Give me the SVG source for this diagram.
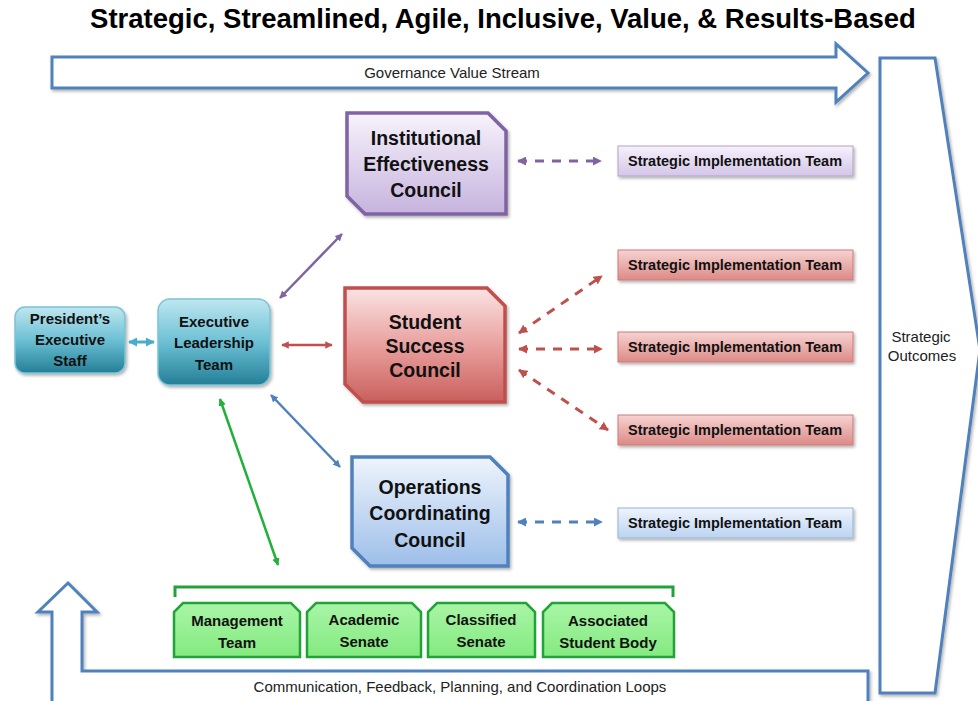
<svg xmlns="http://www.w3.org/2000/svg" width="978" height="701" viewBox="0 0 978 701">
<style>
.title{font-family:"Liberation Sans",Arial,sans-serif;font-weight:bold;font-size:27.5px;fill:#000}
.lbl{font-family:"Liberation Sans",Arial,sans-serif;font-size:15px;fill:#222}
.nb{font-family:"Liberation Sans",Arial,sans-serif;font-weight:bold;fill:#111;text-anchor:middle}
.big{font-size:19.5px}
.sm{font-size:15px}
.sit{font-size:14.5px}
.flow{fill:#fff;stroke:#4f81bd;stroke-width:3}
.sitp{fill:url(#gPurpleS);stroke:#b3a2c7;stroke-width:1}
.sitr{fill:url(#gRedS);stroke:#d07a77;stroke-width:1}
.sitb{fill:url(#gBlueS);stroke:#95b3d7;stroke-width:1}
.grn{fill:url(#gGreen);stroke:#22a33a;stroke-width:2.5}
.teal{fill:url(#gTeal);stroke:#7cc4d6;stroke-width:1.5}
</style>
<defs>
<linearGradient id="gTeal" x1="0" y1="0" x2="0" y2="1"><stop offset="0" stop-color="#bfe7f0"/><stop offset="0.5" stop-color="#6cc0d4"/><stop offset="1" stop-color="#237f97"/></linearGradient>
<linearGradient id="gPurple" x1="0" y1="0" x2="0" y2="1"><stop offset="0" stop-color="#f7f3fb"/><stop offset="1" stop-color="#c6b3de"/></linearGradient>
<linearGradient id="gRed" x1="0" y1="0" x2="0" y2="1"><stop offset="0" stop-color="#fbe3e3"/><stop offset="0.55" stop-color="#e69a98"/><stop offset="1" stop-color="#c9605d"/></linearGradient>
<linearGradient id="gBlue" x1="0" y1="0" x2="0" y2="1"><stop offset="0" stop-color="#eef4fc"/><stop offset="1" stop-color="#9dbee9"/></linearGradient>
<linearGradient id="gPurpleS" x1="0" y1="0" x2="0" y2="1"><stop offset="0" stop-color="#f6f1fb"/><stop offset="1" stop-color="#d4c6e8"/></linearGradient>
<linearGradient id="gRedS" x1="0" y1="0" x2="0" y2="1"><stop offset="0" stop-color="#f6d3d2"/><stop offset="1" stop-color="#dc8a87"/></linearGradient>
<linearGradient id="gBlueS" x1="0" y1="0" x2="0" y2="1"><stop offset="0" stop-color="#eef4fc"/><stop offset="1" stop-color="#bcd3f1"/></linearGradient>
<linearGradient id="gGreen" x1="0" y1="0" x2="0" y2="1"><stop offset="0" stop-color="#a9f5a6"/><stop offset="1" stop-color="#84ea80"/></linearGradient>
<filter id="sh" x="-10%" y="-10%" width="125%" height="130%"><feDropShadow dx="1.5" dy="2" stdDeviation="1.5" flood-color="#000" flood-opacity="0.3"/></filter>
<marker id="mTeal" viewBox="0 0 10 10" refX="9" refY="5" markerWidth="3" markerHeight="3" orient="auto-start-reverse"><path d="M0,0 L10,5 L0,10 z" fill="#4bacc6"/></marker>
<marker id="mPur" viewBox="0 0 10 10" refX="9" refY="5" markerWidth="3" markerHeight="3" orient="auto-start-reverse"><path d="M0,0 L10,5 L0,10 z" fill="#8064a2"/></marker>
<marker id="mRed" viewBox="0 0 10 10" refX="9" refY="5" markerWidth="3" markerHeight="3" orient="auto-start-reverse"><path d="M0,0 L10,5 L0,10 z" fill="#c0504d"/></marker>
<marker id="mBlue" viewBox="0 0 10 10" refX="9" refY="5" markerWidth="3" markerHeight="3" orient="auto-start-reverse"><path d="M0,0 L10,5 L0,10 z" fill="#4f81bd"/></marker>
<marker id="mGrn" viewBox="0 0 10 10" refX="9" refY="5" markerWidth="3" markerHeight="3" orient="auto-start-reverse"><path d="M0,0 L10,5 L0,10 z" fill="#22b03a"/></marker>
</defs>
<rect width="978" height="701" fill="#fff"/>
<text class="title" x="503" y="28" text-anchor="middle">Strategic, Streamlined, Agile, Inclusive, Value, &amp; Results-Based</text>

<g id="governance-stream">
<path class="flow" filter="url(#sh)" d="M52,57 L836,57 L836,44 L868,73 L836,102 L836,88 L52,88 Z"/>
<text class="lbl" x="452" y="78" text-anchor="middle">Governance Value Stream</text>
</g>

<g id="strategic-outcomes">
<path class="flow" filter="url(#sh)" d="M880,58 L935,58 L980,350 L935,693 L880,693 Z"/>
<text class="lbl" x="921" y="342" text-anchor="middle">Strategic</text>
<text class="lbl" x="922" y="361" text-anchor="middle">Outcomes</text>
</g>

<g id="feedback-loop">
<path class="flow" filter="url(#sh)" d="M52,703 L52,612 L38,612 L68,583 L97,612 L82,612 L82,671 L868,671 L868,703"/>
<text class="lbl" x="460" y="692" text-anchor="middle">Communication, Feedback, Planning, and Coordination Loops</text>
</g>

<g id="connectors">
<line x1="129" y1="342" x2="154" y2="342" stroke="#4bacc6" stroke-width="3" marker-start="url(#mTeal)" marker-end="url(#mTeal)"/>
<line x1="280" y1="298" x2="342" y2="234" stroke="#8064a2" stroke-width="2.5" marker-start="url(#mPur)" marker-end="url(#mPur)"/>
<line x1="282" y1="345" x2="332" y2="345" stroke="#c0504d" stroke-width="2.5" marker-start="url(#mRed)" marker-end="url(#mRed)"/>
<line x1="271" y1="395" x2="340" y2="467" stroke="#4f81bd" stroke-width="2.5" marker-start="url(#mBlue)" marker-end="url(#mBlue)"/>
<line x1="220" y1="399" x2="278" y2="565" stroke="#22b03a" stroke-width="2.5" marker-start="url(#mGrn)" marker-end="url(#mGrn)"/>
<line x1="518" y1="161" x2="601" y2="161" stroke="#8064a2" stroke-width="3" stroke-dasharray="9 8" marker-start="url(#mPur)" marker-end="url(#mPur)"/>
<line x1="519" y1="333" x2="602" y2="276" stroke="#c0504d" stroke-width="3" stroke-dasharray="9 8" marker-start="url(#mRed)" marker-end="url(#mRed)"/>
<line x1="519" y1="349" x2="602" y2="349" stroke="#c0504d" stroke-width="3" stroke-dasharray="9 8" marker-start="url(#mRed)" marker-end="url(#mRed)"/>
<line x1="519" y1="370" x2="608" y2="430" stroke="#c0504d" stroke-width="3" stroke-dasharray="9 8" marker-start="url(#mRed)" marker-end="url(#mRed)"/>
<line x1="518" y1="522" x2="602" y2="522" stroke="#4f81bd" stroke-width="3" stroke-dasharray="9 8" marker-start="url(#mBlue)" marker-end="url(#mBlue)"/>
<path d="M175,597 L175,587 L673,587 L673,597" fill="none" stroke="#22a33a" stroke-width="3"/>
</g>

<g id="presidents-executive-staff">
<rect class="teal" filter="url(#sh)" x="15" y="307" width="110" height="66" rx="10"/>
<text class="nb sm" x="70" y="324">President’s</text>
<text class="nb sm" x="70" y="345">Executive</text>
<text class="nb sm" x="70" y="366">Staff</text>
</g>

<g id="executive-leadership-team">
<rect class="teal" filter="url(#sh)" x="158" y="299" width="112" height="86" rx="12"/>
<text class="nb sm" x="214" y="327">Executive</text>
<text class="nb sm" x="214" y="348">Leadership</text>
<text class="nb sm" x="214" y="370">Team</text>
</g>

<g id="institutional-effectiveness-council">
<polygon filter="url(#sh)" points="347,113 488,113 506,131 506,214 365,214 347,196" fill="url(#gPurple)" stroke="#8064a2" stroke-width="3.5"/>
<text class="nb big" x="426" y="145">Institutional</text>
<text class="nb big" x="426" y="171">Effectiveness</text>
<text class="nb big" x="426" y="197">Council</text>
</g>

<g id="student-success-council">
<polygon filter="url(#sh)" points="345,288 487,288 505,306 505,402 363,402 345,384" fill="url(#gRed)" stroke="#c0504d" stroke-width="3.5"/>
<text class="nb big" x="425" y="329">Student</text>
<text class="nb big" x="425" y="353">Success</text>
<text class="nb big" x="425" y="377">Council</text>
</g>

<g id="operations-coordinating-council">
<polygon filter="url(#sh)" points="352,457 490,457 508,475 508,566 370,566 352,548" fill="url(#gBlue)" stroke="#4f81bd" stroke-width="3.5"/>
<text class="nb big" x="430" y="494">Operations</text>
<text class="nb big" x="430" y="520">Coordinating</text>
<text class="nb big" x="430" y="547">Council</text>
</g>

<g id="sit-iec">
<rect class="sitp" filter="url(#sh)" x="618" y="146" width="235" height="30"/>
<text class="nb sit" x="735" y="166">Strategic Implementation Team</text>
</g>
<g id="sit-ssc-1">
<rect class="sitr" filter="url(#sh)" x="618" y="250" width="235" height="30"/>
<text class="nb sit" x="735" y="270">Strategic Implementation Team</text>
</g>
<g id="sit-ssc-2">
<rect class="sitr" filter="url(#sh)" x="618" y="332" width="235" height="30"/>
<text class="nb sit" x="735" y="352">Strategic Implementation Team</text>
</g>
<g id="sit-ssc-3">
<rect class="sitr" filter="url(#sh)" x="618" y="415" width="235" height="30"/>
<text class="nb sit" x="735" y="435">Strategic Implementation Team</text>
</g>
<g id="sit-occ">
<rect class="sitb" filter="url(#sh)" x="618" y="508" width="235" height="30"/>
<text class="nb sit" x="735" y="528">Strategic Implementation Team</text>
</g>

<g id="management-team">
<polygon class="grn" points="183,603 291,603 300,612 300,657 174,657 174,612"/>
<text class="nb sm" x="237" y="626">Management</text>
<text class="nb sm" x="237" y="648">Team</text>
</g>
<g id="academic-senate">
<polygon class="grn" points="316,603 412,603 421,612 421,657 307,657 307,612"/>
<text class="nb sm" x="364" y="625">Academic</text>
<text class="nb sm" x="364" y="647">Senate</text>
</g>
<g id="classified-senate">
<polygon class="grn" points="437,603 526,603 535,612 535,657 428,657 428,612"/>
<text class="nb sm" x="481" y="625">Classified</text>
<text class="nb sm" x="481" y="647">Senate</text>
</g>
<g id="associated-student-body">
<polygon class="grn" points="552,603 665,603 674,612 674,657 543,657 543,612"/>
<text class="nb sm" x="608" y="626">Associated</text>
<text class="nb sm" x="608" y="648">Student Body</text>
</g>
</svg>
